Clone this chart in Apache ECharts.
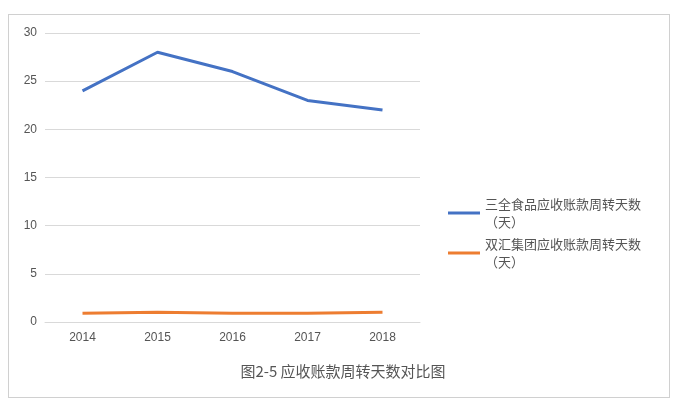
<!DOCTYPE html>
<html><head><meta charset="utf-8">
<script src="https://cdn.jsdelivr.net/npm/echarts@6/dist/echarts.min.js"></script>
<style>html,body{margin:0;padding:0;background:#fff}#c{width:684px;height:407px}
#frame{position:absolute;left:8px;top:14px;width:662px;height:384px;border:1px solid #d0d0d0;box-sizing:border-box;pointer-events:none}</style>
</head><body><div id="c"></div><div id="frame"></div>
<script>
const categories=['2014','2015','2016','2017','2018'];
const sanquan=[24,28,26,23,22];
const shuanghui=[0.9,1.0,0.9,0.9,1.0];
const yTicks=[0,5,10,15,20,25,30];
const names=['三全食品应收账款周转天数\n（天）','双汇集团应收账款周转天数\n（天）'];
const chart=echarts.init(document.getElementById('c'));
chart.setOption({
 animation:false,
 title:{text:'图2-5 应收账款周转天数对比图',left:338,textAlign:'center',top:359,textStyle:{fontSize:15,fontWeight:'normal',color:'#555',fontFamily:'Noto Sans CJK SC'}},
 grid:{left:45,right:264,top:33,bottom:85},
 legend:{orient:'vertical',left:443,top:190,itemGap:4,itemWidth:32,itemHeight:3,icon:'rect',
  textStyle:{fontSize:13,color:'#555',fontFamily:'Noto Sans CJK SC',lineHeight:18},data:names},
 xAxis:{type:'category',data:categories,boundaryGap:true,axisTick:{show:false},
  axisLine:{lineStyle:{color:'#d9d9d9'}},axisLabel:{color:'#555',fontSize:12,margin:10}},
 yAxis:{type:'value',min:yTicks[0],max:yTicks[yTicks.length-1],interval:5,
  axisLabel:{color:'#555',fontSize:12},splitLine:{lineStyle:{color:'#d9d9d9'}}},
 series:[
  {name:names[0],type:'line',data:sanquan,symbol:'none',lineStyle:{width:3,color:'#4472c4'},itemStyle:{color:'#4472c4'}},
  {name:names[1],type:'line',data:shuanghui,symbol:'none',lineStyle:{width:3,color:'#ed7d31'},itemStyle:{color:'#ed7d31'}}
 ]
});
</script></body></html>
